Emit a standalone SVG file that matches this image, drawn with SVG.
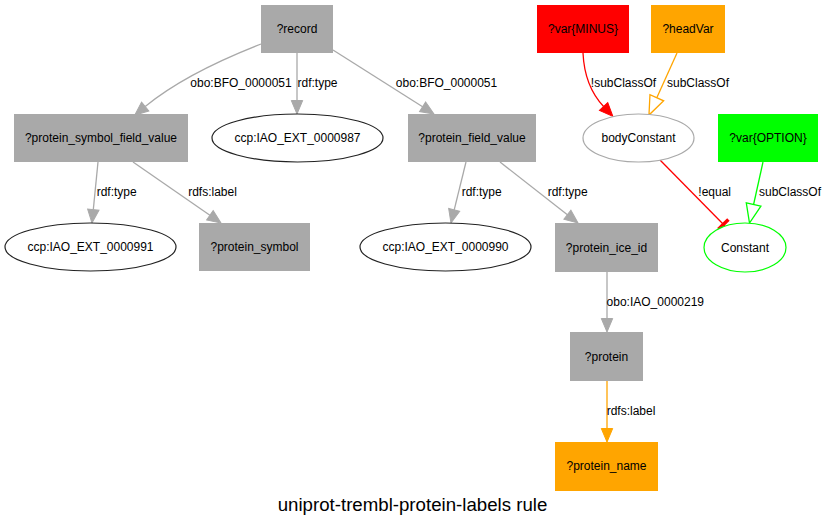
<svg xmlns="http://www.w3.org/2000/svg" width="826" height="528" viewBox="0 0 826 528">
<style>
text{font-family:"Liberation Sans",Arial,sans-serif;font-size:12px;fill:#000;text-anchor:middle}
.title{font-size:18.67px}
.box{fill:#a9a9a9;stroke:none}
.ell{fill:#fff;stroke:#222;stroke-width:1.2}
.e{fill:none;stroke-width:1.3}
.gray{stroke:#a9a9a9}
.red{stroke:#ff0000}
.orange{stroke:#ffa500}
.green{stroke:#00ff00}
</style>
<defs>
<marker id="ag" markerUnits="userSpaceOnUse" orient="auto" refX="0" refY="0" markerWidth="20" markerHeight="20" overflow="visible"><path d="M0,-5.7 L13.5,0 L0,5.7 Z" fill="#a9a9a9" stroke="#a9a9a9" stroke-width="1"/></marker>
<marker id="ar" markerUnits="userSpaceOnUse" orient="auto" refX="0" refY="0" markerWidth="20" markerHeight="20" overflow="visible"><path d="M0,-5.7 L13.5,0 L0,5.7 Z" fill="#ff0000" stroke="#ff0000" stroke-width="1"/></marker>
<marker id="ao" markerUnits="userSpaceOnUse" orient="auto" refX="0" refY="0" markerWidth="20" markerHeight="20" overflow="visible"><path d="M0,-5.7 L13.5,0 L0,5.7 Z" fill="#ffa500" stroke="#ffa500" stroke-width="1"/></marker>
<marker id="oo" markerUnits="userSpaceOnUse" orient="auto" refX="0" refY="0" markerWidth="30" markerHeight="30" overflow="visible"><path d="M0,-7.5 L19,0 L0,7.5 Z" fill="none" stroke="#ffa500" stroke-width="1.3"/></marker>
<marker id="og" markerUnits="userSpaceOnUse" orient="auto" refX="0" refY="0" markerWidth="30" markerHeight="30" overflow="visible"><path d="M0,-7.5 L19,0 L0,7.5 Z" fill="none" stroke="#00ff00" stroke-width="1.3"/></marker>
<marker id="tee" markerUnits="userSpaceOnUse" orient="auto" refX="0" refY="0" markerWidth="20" markerHeight="20" overflow="visible"><rect x="-4" y="-7" width="3.5" height="14" fill="#ff0000"/></marker>
</defs>
<rect width="826" height="528" fill="#fff"/>
<g id="connectors">
<path class="e gray" d="M261,44 C220,60 175,82 145.2,106.5" marker-end="url(#ag)"/>
<text x="241" y="87">obo:BFO_0000051</text>
<path class="e gray" d="M297,53 L297,100.5" marker-end="url(#ag)"/>
<text x="317.5" y="87">rdf:type</text>
<path class="e gray" d="M333,50 L422.6,106.8" marker-end="url(#ag)"/>
<text x="446.5" y="87">obo:BFO_0000051</text>
<path class="e gray" d="M98,162 L93.3,209.6" marker-end="url(#ag)"/>
<text x="116.7" y="196">rdf:type</text>
<path class="e gray" d="M133,162 L209.9,215.3" marker-end="url(#ag)"/>
<text x="212.5" y="196">rdfs:label</text>
<path class="e gray" d="M466,162 L454.2,209.9" marker-end="url(#ag)"/>
<text x="481.7" y="196">rdf:type</text>
<path class="e gray" d="M500,162 L567.4,214.7" marker-end="url(#ag)"/>
<text x="567.7" y="196">rdf:type</text>
<path class="e gray" d="M607,272 L607,318.5" marker-end="url(#ag)"/>
<text x="655.3" y="306">obo:IAO_0000219</text>
<path class="e orange" d="M607,381 L607,428.5" marker-end="url(#ao)"/>
<text x="631" y="415">rdfs:label</text>
<path class="e red" d="M583,53 C584,75 590,92 603.6,106.5" marker-end="url(#ar)"/>
<text x="623.5" y="87">!subClassOf</text>
<path class="e orange" d="M677,53 L656.8,97.7" marker-end="url(#oo)"/>
<text x="698" y="87">subClassOf</text>
<path class="e red" d="M660,160 L725,226" marker-end="url(#tee)"/>
<text x="714.7" y="196">!equal</text>
<path class="e green" d="M763,162 L753.6,204.5" marker-end="url(#og)"/>
<text x="790" y="196">subClassOf</text>
</g>
<g id="record"><rect class="box" x="261" y="5" width="72" height="48"/><text x="297" y="33">?record</text></g>
<g id="protein_symbol_field_value"><rect class="box" x="14" y="114" width="174" height="48"/><text x="101" y="142">?protein_symbol_field_value</text></g>
<g id="ccp_IAO_EXT_0000987"><ellipse class="ell" cx="297.5" cy="138" rx="85.5" ry="24"/><text x="297.5" y="142">ccp:IAO_EXT_0000987</text></g>
<g id="protein_field_value"><rect class="box" x="408" y="114" width="128" height="48"/><text x="472" y="142">?protein_field_value</text></g>
<g id="ccp_IAO_EXT_0000991"><ellipse class="ell" cx="90.5" cy="247" rx="85.5" ry="24"/><text x="90.5" y="251">ccp:IAO_EXT_0000991</text></g>
<g id="protein_symbol"><rect class="box" x="199" y="223" width="111" height="48"/><text x="254.5" y="251">?protein_symbol</text></g>
<g id="ccp_IAO_EXT_0000990"><ellipse class="ell" cx="445.5" cy="247" rx="85.5" ry="24"/><text x="445.5" y="251">ccp:IAO_EXT_0000990</text></g>
<g id="protein_ice_id"><rect class="box" x="555" y="223" width="103" height="49"/><text x="606.5" y="251.5">?protein_ice_id</text></g>
<g id="protein"><rect class="box" x="570" y="332" width="73" height="49"/><text x="606.5" y="360.5">?protein</text></g>
<g id="protein_name"><rect x="555" y="442" width="103" height="49" fill="#ffa500"/><text x="606.5" y="470">?protein_name</text></g>
<g id="var_MINUS"><rect x="537" y="5" width="92" height="48" fill="#ff0000"/><text x="583" y="33">?var{MINUS}</text></g>
<g id="headVar"><rect x="651" y="5" width="74" height="48" fill="#ffa500"/><text x="688" y="33">?headVar</text></g>
<g id="bodyConstant"><ellipse cx="638.5" cy="138" rx="55.5" ry="24" fill="#fff" stroke="#a9a9a9" stroke-width="1.2"/><text x="638.5" y="142">bodyConstant</text></g>
<g id="var_OPTION"><rect x="718" y="114" width="100" height="48" fill="#00ff00"/><text x="768" y="142">?var{OPTION}</text></g>
<g id="Constant"><ellipse cx="745" cy="247.5" rx="41" ry="24.5" fill="#fff" stroke="#00ff00" stroke-width="1.2"/><text x="745" y="251.5">Constant</text></g>
<text class="title" x="412.5" y="511">uniprot-trembl-protein-labels rule</text>
</svg>
